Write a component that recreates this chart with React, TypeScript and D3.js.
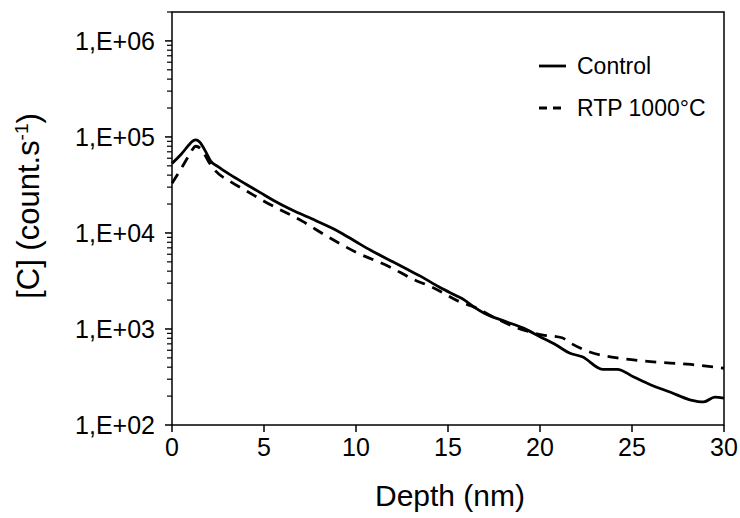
import React from "react";
import * as d3 from "d3";

const controlDepth = [0, 0.5, 1.0, 1.15, 1.3, 1.5, 1.8, 2.1, 2.5, 3.2, 4.0, 4.8, 5.5, 6.5, 7.8, 9.0, 10.0, 10.8, 12.0, 12.9, 13.5, 14.5, 15.4, 15.9, 16.4, 17.0, 18.1, 19.1, 20.0, 20.9, 21.6, 22.3, 23.4, 24.2, 25.1, 26.0, 27.1, 28.2, 28.9, 29.5, 30];
const controlValue = [53000, 66000, 86000, 91500, 93000, 88500, 72000, 56000, 49000, 40000, 32400, 26300, 21900, 17400, 13500, 10500, 8100, 6600, 5000, 4070, 3550, 2750, 2240, 2000, 1700, 1450, 1200, 1020, 830, 676, 562, 513, 380, 380, 316, 263, 219, 182, 174, 195, 190];

const rtpDepth = [0, 0.5, 0.9, 1.3, 1.6, 2.0, 2.3, 3.2, 4.1, 5.0, 7.1, 8.4, 10.0, 11.9, 13.1, 14.1, 15.8, 16.4, 17.5, 18.8, 20.1, 21.2, 21.6, 22.7, 24.2, 26.0, 28.2, 30.0];
const rtpValue = [33000, 46800, 63000, 80000, 74000, 55000, 45700, 34000, 27000, 21400, 13200, 9300, 6300, 4370, 3300, 2750, 1860, 1700, 1320, 1020, 870, 810, 724, 575, 500, 457, 427, 390];

const xTicks = [0, 5, 10, 15, 20, 25, 30];
const yMajorTicks = [1e2, 1e3, 1e4, 1e5, 1e6];
const yTickLabels = ["1,E+02", "1,E+03", "1,E+04", "1,E+05", "1,E+06"];
const seriesNames = ["Control", "RTP 1000°C"];

const FONT = "'Liberation Sans', Arial, sans-serif";

export default function App() {
  const left = 172, right = 724, top = 12, bottom = 425;
  const x = d3.scaleLinear().domain([0, 30]).range([left, right]);
  const y = d3.scaleLog().domain([100, 2e6]).range([bottom, top]);

  const minor: number[] = [];
  for (let e = 2; e <= 6; e++) {
    for (let m = 2; m <= 9; m++) {
      const v = m * Math.pow(10, e);
      if (v <= 2e6) minor.push(v);
    }
  }

  const line = d3
    .line<[number, number]>()
    .x((d) => x(d[0]))
    .y((d) => y(d[1]))
    .curve(d3.curveMonotoneX);

  const controlData = controlDepth.map((d, i) => [d, controlValue[i]] as [number, number]);
  const rtpData = rtpDepth.map((d, i) => [d, rtpValue[i]] as [number, number]);

  return (
    <svg width={740} height={518} style={{ position: "absolute", left: 0, top: 0, background: "#fff" }} fontFamily={FONT}>
      <rect x={0} y={0} width={740} height={518} fill="#fff" />
      {/* series */}
      <path d={line(controlData) || ""} fill="none" stroke="#000" strokeWidth={2.8} strokeLinejoin="round" />
      <path d={line(rtpData) || ""} fill="none" stroke="#000" strokeWidth={2.8} strokeDasharray="11,8" />
      {/* frame */}
      <rect x={left} y={top} width={right - left} height={bottom - top} fill="none" stroke="#000" strokeWidth={1.5} />
      {/* y minor ticks */}
      {minor.map((v, i) => (
        <line key={"m" + i} x1={left - 5} x2={left} y1={y(v)} y2={y(v)} stroke="#000" strokeWidth={1.2} />
      ))}
      {yMajorTicks.map((v, i) => (
        <g key={"y" + i}>
          <line x1={left - 7} x2={left} y1={y(v)} y2={y(v)} stroke="#000" strokeWidth={1.5} />
          <text x={155} y={y(v)} dy="0.35em" textAnchor="end" fontSize={25} fill="#000">
            {yTickLabels[i]}
          </text>
        </g>
      ))}
      {xTicks.map((t, i) => (
        <g key={"x" + i}>
          <line x1={x(t)} x2={x(t)} y1={bottom} y2={bottom + 7} stroke="#000" strokeWidth={1.5} />
          <text x={x(t)} y={456} textAnchor="middle" fontSize={25} fill="#000">
            {t}
          </text>
        </g>
      ))}
      <text x={450} y={506} textAnchor="middle" fontSize={30} fill="#000">
        Depth (nm)
      </text>
      <text transform="translate(39,206) rotate(-90)" textAnchor="middle" fontSize={31} fill="#000">
        [C] (count.s<tspan dy={-11} fontSize={19}>-1</tspan>
        <tspan dy={11}>)</tspan>
      </text>
      {/* legend */}
      <line x1={539} x2={566} y1={66} y2={66} stroke="#000" strokeWidth={2.8} />
      <text x={577} y={74} fontSize={23} fill="#000">{seriesNames[0]}</text>
      <line x1={539} x2={566} y1={108} y2={108} stroke="#000" strokeWidth={2.8} strokeDasharray="8,6" />
      <text x={577} y={116} fontSize={23} fill="#000">{seriesNames[1]}</text>
    </svg>
  );
}
